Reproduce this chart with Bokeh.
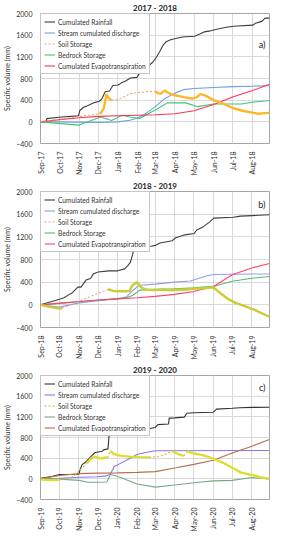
import math
import pandas as pd
from bokeh.plotting import figure
from bokeh.layouts import column
from bokeh.models import (Range1d, FixedTicker, MonthsTicker, DatetimeTickFormatter,
                          Legend, LegendItem, Label)
from bokeh.embed import file_html
from bokeh.resources import INLINE

nan = float("nan")

# ---------------- shared ----------------
y_ticks = [-400, 0, 400, 800, 1200, 1600, 2000]
series_labels = ["Cumulated Rainfall", "Stream cumulated discharge", "Soil Storage",
                 "Bedrock Storage", "Cumulated Evapotranspiration"]

# ---------------- a) 2017 - 2018 ----------------
a_rain_date = ["2017-09-01", "2017-09-10", "2017-09-11", "2017-09-30", "2017-10-29", "2017-10-31",
               "2017-11-02", "2017-11-08", "2017-11-13", "2017-11-19", "2017-11-25", "2017-12-03",
               "2017-12-07", "2017-12-12", "2017-12-19", "2017-12-24", "2018-01-01", "2018-01-06",
               "2018-01-13", "2018-01-21", "2018-01-31", "2018-02-05", "2018-02-12", "2018-02-19",
               "2018-02-25", "2018-03-02", "2018-03-08", "2018-03-13", "2018-03-18", "2018-03-25",
               "2018-04-02", "2018-04-13", "2018-05-02", "2018-05-10", "2018-05-17", "2018-05-27",
               "2018-06-06", "2018-06-21", "2018-07-02", "2018-08-02", "2018-08-06", "2018-08-16",
               "2018-08-21", "2018-08-28"]
a_rain_val = [0, 10, 60, 85, 110, 115, 210, 270, 290, 325, 355, 380, 430, 555, 570, 670, 680, 715,
              755, 810, 820, 910, 940, 1040, 1100, 1180, 1300, 1410, 1480, 1515, 1540, 1565, 1580,
              1620, 1660, 1680, 1710, 1745, 1765, 1785, 1820, 1855, 1915, 1915]
a_dis_date = ["2017-09-01", "2017-10-01", "2017-11-01", "2017-12-01", "2018-01-01", "2018-01-20",
              "2018-02-01", "2018-02-15", "2018-03-01", "2018-03-15", "2018-04-01", "2018-04-15",
              "2018-05-01", "2018-06-01", "2018-07-01", "2018-08-01", "2018-08-28"]
a_dis_val = [0, 0, -5, -10, 0, 30, 70, 160, 280, 420, 530, 595, 615, 635, 650, 658, 665]
a_bed_date = ["2017-09-01", "2017-11-01", "2017-12-05", "2017-12-22", "2018-01-08", "2018-01-20",
              "2018-02-04", "2018-03-03", "2018-03-20", "2018-04-18", "2018-05-07", "2018-06-01",
              "2018-07-15", "2018-08-01", "2018-08-28"]
a_bed_val = [0, -60, 90, 25, 120, 90, 63, 234, 350, 350, 280, 330, 330, 362, 395]
a_et_date = ["2017-09-01", "2017-10-01", "2017-11-01", "2017-12-01", "2018-01-01", "2018-02-01",
             "2018-03-01", "2018-04-01", "2018-05-01", "2018-06-01", "2018-07-01", "2018-08-01",
             "2018-08-28"]
a_et_val = [0, 40, 75, 100, 112, 122, 130, 150, 205, 320, 460, 577, 695]
a_soil_date = ["2017-12-03", "2017-12-06", "2017-12-10", "2017-12-14", "2017-12-18", "2017-12-22",
               "2017-12-22",
               "2018-03-01", "2018-03-06", "2018-03-10", "2018-03-16", "2018-03-22", "2018-04-01",
               "2018-04-15", "2018-04-28", "2018-05-05", "2018-05-11", "2018-05-18", "2018-06-01",
               "2018-06-15", "2018-07-01", "2018-07-16", "2018-08-01", "2018-08-10", "2018-08-20",
               "2018-08-28"]
a_soil_val = [150, 175, 260, 510, 430, 400, nan,
              566, 525, 520, 580, 530, 490, 455, 430, 450, 510, 490, 400, 340, 255, 205, 170,
              150, 160, 165]
a_gap_date = ["2017-09-01", "2017-12-03", "2017-12-03", "2017-12-22", "2018-01-01", "2018-01-10",
              "2018-01-20", "2018-02-01", "2018-02-15", "2018-03-01"]
a_gap_val = [0, 150, nan, 400, 410, 460, 520, 540, 555, 566]

# ---------------- b) 2018 - 2019 ----------------
b_rain_date = ["2018-09-01", "2018-10-01", "2018-10-08", "2018-10-16", "2018-10-21", "2018-10-30",
               "2018-11-04", "2018-11-12", "2018-11-19", "2018-11-24", "2018-12-01", "2018-12-18",
               "2019-01-01", "2019-01-12", "2019-01-17", "2019-01-21", "2019-01-24", "2019-01-26",
               "2019-01-31", "2019-02-22", "2019-03-02", "2019-03-09", "2019-03-28", "2019-04-02",
               "2019-04-17", "2019-05-02", "2019-05-06", "2019-05-16", "2019-05-26", "2019-06-02",
               "2019-07-03", "2019-07-14", "2019-08-02", "2019-08-29"]
b_rain_val = [0, 97, 125, 180, 210, 312, 312, 437, 465, 550, 579, 600, 600, 635, 692, 749, 862,
              948, 1021, 1035, 1050, 1090, 1130, 1180, 1235, 1260, 1320, 1375, 1460, 1530, 1545,
              1565, 1575, 1590]
b_dis_date = ["2018-09-01", "2018-10-01", "2018-11-01", "2018-12-01", "2019-01-01", "2019-01-15",
              "2019-01-24", "2019-01-31", "2019-02-07", "2019-03-01", "2019-04-01", "2019-04-26",
              "2019-05-01", "2019-05-21", "2019-06-01", "2019-07-01", "2019-08-29"]
b_dis_val = [0, -40, 35, 75, 110, 140, 240, 310, 345, 365, 400, 420, 440, 510, 535, 540, 545]
b_bed_date = ["2018-09-01", "2018-10-01", "2018-11-01", "2018-12-01", "2019-01-01", "2019-01-15",
              "2019-01-25", "2019-02-05", "2019-03-01", "2019-04-01", "2019-05-01", "2019-06-01",
              "2019-07-01", "2019-08-01", "2019-08-29"]
b_bed_val = [0, 25, 55, 80, 105, 125, 170, 260, 275, 285, 300, 325, 415, 470, 500]
b_et_date = ["2018-09-01", "2018-10-01", "2018-11-01", "2018-12-01", "2019-01-01", "2019-02-01",
             "2019-03-01", "2019-04-01", "2019-05-01", "2019-06-01", "2019-07-01", "2019-08-01",
             "2019-08-29"]
b_et_val = [0, 30, 60, 85, 105, 125, 150, 185, 235, 320, 530, 650, 730]
b_soil_date = ["2018-09-01", "2018-09-15", "2018-10-01", "2018-10-05", "2018-10-05",
               "2018-12-17", "2018-12-25", "2019-01-10", "2019-01-20", "2019-01-23", "2019-01-29",
               "2019-02-01", "2019-02-07", "2019-02-14", "2019-03-01", "2019-03-13", "2019-03-23",
               "2019-04-01", "2019-04-21", "2019-05-01", "2019-05-21", "2019-06-01", "2019-06-14",
               "2019-06-25", "2019-07-05", "2019-07-20", "2019-08-05", "2019-08-29"]
b_soil_val = [0, -35, -65, -60, nan,
              275, 245, 240, 245, 325, 380, 400, 310, 270, 260, 270, 255, 262, 270, 285, 295,
              310, 190, 100, 40, -20, -90, -210]
b_gap_date = ["2018-10-05", "2018-12-17"]
b_gap_val = [-60, 275]

# ---------------- c) 2019 - 2020 ----------------
c_rain_date = ["2019-09-01", "2019-09-19", "2019-10-01", "2019-11-01", "2019-11-03", "2019-11-06",
               "2019-11-12", "2019-11-19", "2019-11-26", "2019-12-01", "2019-12-08", "2019-12-10",
               "2019-12-17", "2019-12-19", "2019-12-21", "2020-01-01", "2020-02-01", "2020-02-17",
               "2020-03-01", "2020-03-05", "2020-03-22", "2020-03-23", "2020-04-01", "2020-04-16",
               "2020-04-20", "2020-05-01", "2020-06-01", "2020-06-06", "2020-07-01", "2020-07-13",
               "2020-08-01", "2020-08-29"]
c_rain_val = [10, 45, 85, 90, 190, 275, 330, 420, 505, 520, 535, 560, 580, 880, 905, 905, 925,
              965, 995, 1050, 1060, 1175, 1180, 1195, 1270, 1280, 1290, 1350, 1365, 1377, 1383,
              1385]
c_dis_date = ["2019-09-01", "2019-10-01", "2019-11-01", "2019-12-01", "2019-12-15", "2019-12-21",
              "2019-12-27", "2020-01-01", "2020-01-19", "2020-02-01", "2020-02-15", "2020-03-01",
              "2020-08-29"]
c_dis_val = [0, 10, 30, 40, 57, 98, 240, 270, 385, 470, 510, 545, 548]
c_bed_date = ["2019-09-01", "2019-10-01", "2019-11-01", "2019-11-15", "2019-12-01", "2019-12-15",
              "2019-12-21", "2020-01-01", "2020-02-01", "2020-03-01", "2020-04-01", "2020-05-01",
              "2020-06-01", "2020-07-01", "2020-08-01", "2020-08-29"]
c_bed_val = [0, -5, -30, -65, -65, -60, 85, 50, -100, -160, -120, -75, -40, -30, 25, 0]
c_et_date = ["2019-09-01", "2019-10-01", "2019-11-01", "2019-12-01", "2020-01-01", "2020-02-01",
             "2020-03-01", "2020-04-01", "2020-05-01", "2020-06-01", "2020-07-01", "2020-08-01",
             "2020-08-29"]
c_et_val = [0, 65, 100, 110, 115, 125, 140, 210, 280, 360, 500, 630, 760]
c_soil_date = ["2019-09-01", "2019-09-15", "2019-10-01", "2019-10-01",
               "2019-11-13", "2019-11-20", "2019-11-27", "2019-12-02", "2019-12-07", "2019-12-12",
               "2019-12-16", "2019-12-16",
               "2019-12-21", "2019-12-26", "2020-01-05", "2020-01-20", "2020-02-05", "2020-02-20",
               "2020-02-20",
               "2020-03-28", "2020-04-06", "2020-04-15", "2020-04-15",
               "2020-04-21", "2020-05-01", "2020-05-15", "2020-06-01", "2020-06-15", "2020-07-01",
               "2020-07-15", "2020-08-01", "2020-08-15", "2020-08-29"]
c_soil_val = [-10, -25, -20, nan,
              300, 390, 430, 400, 390, 415, 405, nan,
              540, 480, 450, 430, 420, 415, nan,
              535, 480, 445, nan,
              535, 490, 460, 390, 320, 215, 120, 75, 30, 0]
c_gap_date = ["2019-10-01", "2019-10-23", "2019-11-13", "2019-11-13", "2019-12-16", "2019-12-21",
              "2019-12-21", "2020-02-20", "2020-03-10", "2020-03-28", "2020-03-28", "2020-04-15",
              "2020-04-21"]
c_gap_val = [-20, 40, 300, nan, 405, 540, nan, 415, 440, 535, nan, 445, 535]

FONT = "Lato"


def d(lst):
    return pd.to_datetime(lst)


def make_panel(title, tag, tag_y, start, end, height, top, bottom, data, colors):
    (rain_d, rain_v, dis_d, dis_v, soil_d, soil_v, gap_d, gap_v, bed_d, bed_v, et_d, et_v) = data
    p = figure(width=270, height=height, x_axis_type="datetime",
               x_range=Range1d(pd.Timestamp(start).to_pydatetime(), pd.Timestamp(end).to_pydatetime()),
               y_range=Range1d(-400, 2000),
               output_backend="svg", toolbar_location=None,
               min_border_left=26, min_border_right=1, min_border_top=top,
               min_border_bottom=bottom)
    p.title.text = title
    p.title.align = "center"
    p.title.text_font = FONT
    p.title.text_font_size = "8px"
    p.title.text_font_style = "bold"
    p.title.text_color = "#222222"
    p.title.offset = -13
    p.title.standoff = 1

    p.outline_line_color = "#a6a6a6"
    p.background_fill_color = "white"
    p.border_fill_color = "white"

    p.xaxis.ticker = MonthsTicker(months=list(range(12)))
    p.xaxis.formatter = DatetimeTickFormatter(months="%b-%y", days="%b-%y")
    p.xaxis.major_label_orientation = math.pi / 2
    p.yaxis.ticker = FixedTicker(ticks=y_ticks)
    p.yaxis.axis_label = "Specific volume (mm)"
    for ax in (p.xaxis[0], p.yaxis[0]):
        ax.axis_line_color = None
        ax.major_tick_line_color = None
        ax.minor_tick_line_color = None
        ax.major_label_text_font = FONT
        ax.major_label_text_font_size = "7px"
        ax.major_label_text_color = "#333333"
        ax.major_label_standoff = 2
    p.yaxis.axis_label_text_font = FONT
    p.yaxis.axis_label_text_font_size = "7px"
    p.yaxis.axis_label_text_font_style = "normal"
    p.yaxis.axis_label_text_color = "#333333"
    p.yaxis.axis_label_standoff = 2
    p.grid.grid_line_color = "#d9d9d9"
    p.grid.grid_line_width = 1

    r_rain = p.line(d(rain_d), rain_v, line_color=colors[0], line_width=1.1)
    r_dis = p.line(d(dis_d), dis_v, line_color=colors[1], line_width=1.1)
    r_bed = p.line(d(bed_d), bed_v, line_color=colors[3], line_width=1.1)
    r_et = p.line(d(et_d), et_v, line_color=colors[4], line_width=1.1)
    r_gap = p.line(d(gap_d), gap_v, line_color=colors[2], line_width=1.1, line_dash="2 2")
    p.line(d(soil_d), soil_v, line_color=colors[5], line_width=2.4)

    items = [LegendItem(label=series_labels[0], renderers=[r_rain]),
             LegendItem(label=series_labels[1], renderers=[r_dis]),
             LegendItem(label=series_labels[2], renderers=[r_gap]),
             LegendItem(label=series_labels[3], renderers=[r_bed]),
             LegendItem(label=series_labels[4], renderers=[r_et])]
    leg = Legend(items=items, location="top_left", margin=0, padding=3, spacing=2,
                 label_text_font=FONT, label_text_font_size="6.6px", label_text_color="#333333",
                 glyph_width=11, glyph_height=9, label_height=9, label_standoff=3,
                 label_text_line_height=1.0,
                 border_line_color="#8c8c8c", border_line_width=1,
                 background_fill_color="white", background_fill_alpha=1)
    p.add_layout(leg)

    p.add_layout(Label(x=pd.Timestamp(end).to_pydatetime(), y=tag_y, x_offset=-4, text=tag,
                       text_align="right", text_baseline="middle", text_font=FONT,
                       text_font_size="9px", text_color="#222222"))
    return p


col_a = ["#3d3d3d", "#6fa0dc", "#f2a070", "#3cc67a", "#ff3355", "#fdb82a"]
col_b = ["#3d3d3d", "#8fa0e6", "#f0a0a0", "#55bb70", "#ff4466", "#cccc33"]
col_c = ["#333333", "#8877ee", "#c8b830", "#77aa88", "#b86e50", "#dddd33"]

pa = make_panel("2017 - 2018", "a)", 1430, "2017-09-01", "2018-08-28", 178, 9, 33,
                (a_rain_date, a_rain_val, a_dis_date, a_dis_val, a_soil_date, a_soil_val,
                 a_gap_date, a_gap_val, a_bed_date, a_bed_val, a_et_date, a_et_val), col_a)
pb = make_panel("2018 - 2019", "b)", 1765, "2018-09-01", "2019-08-29", 184, 9, 34,
                (b_rain_date, b_rain_val, b_dis_date, b_dis_val, b_soil_date, b_soil_val,
                 b_gap_date, b_gap_val, b_bed_date, b_bed_val, b_et_date, b_et_val), col_b)
pc = make_panel("2019 - 2020", "c)", 1770, "2019-09-01", "2020-08-29", 172, 9, 26,
                (c_rain_date, c_rain_val, c_dis_date, c_dis_val, c_soil_date, c_soil_val,
                 c_gap_date, c_gap_val, c_bed_date, c_bed_val, c_et_date, c_et_val), col_c)

layout = column(pa, pb, pc, spacing=0)
open("out.html", "w").write(file_html(layout, INLINE))
